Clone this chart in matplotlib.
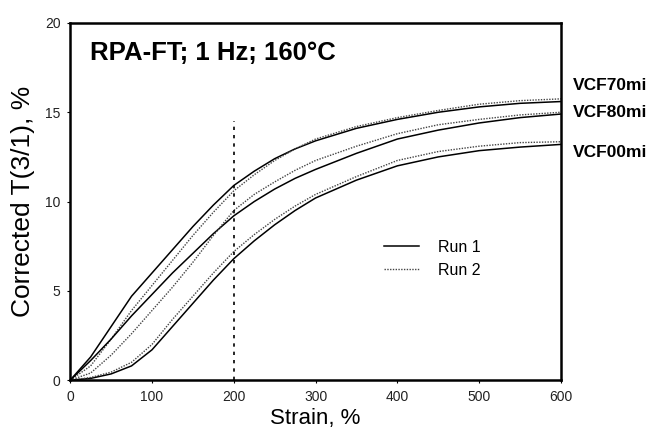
import matplotlib
matplotlib.use('Agg')
import matplotlib.pyplot as plt
import numpy as np

plt.rcParams['font.family'] = ['Liberation Sans', 'DejaVu Sans']

strain = [0, 25, 50, 75, 100, 125, 150, 175, 200, 225, 250, 275, 300, 350, 400, 450, 500, 550, 600]

vcf70_run1 = [0, 1.3, 3.0, 4.7, 6.0, 7.3, 8.6, 9.8, 10.9, 11.7, 12.4, 12.95, 13.4, 14.1, 14.6, 15.0, 15.3, 15.5, 15.6]
vcf70_run2 = [0, 0.8, 2.3, 3.9, 5.3, 6.7, 8.1, 9.4, 10.6, 11.5, 12.3, 12.95, 13.5, 14.2, 14.7, 15.1, 15.45, 15.65, 15.75]
vcf80_run1 = [0, 1.1, 2.3, 3.6, 4.8, 6.0, 7.1, 8.2, 9.2, 10.0, 10.7, 11.3, 11.8, 12.7, 13.5, 14.0, 14.4, 14.7, 14.9]
vcf80_run2 = [0, 0.4, 1.4, 2.6, 3.9, 5.2, 6.6, 8.1, 9.5, 10.4, 11.1, 11.75, 12.3, 13.1, 13.8, 14.3, 14.6, 14.85, 15.0]
vcf00_run1 = [0, 0.1, 0.35, 0.8, 1.7, 3.0, 4.3, 5.6, 6.8, 7.8, 8.7, 9.5, 10.2, 11.2, 12.0, 12.5, 12.85, 13.05, 13.2]
vcf00_run2 = [0, 0.15, 0.45, 1.0, 2.0, 3.4, 4.7, 6.0, 7.2, 8.15, 9.0, 9.75, 10.4, 11.4, 12.3, 12.8, 13.1, 13.3, 13.35]

compounds = ['VCF70mi', 'VCF80mi', 'VCF00mi']
label_y = [16.5, 15.0, 12.75]

fig = plt.figure(figsize=(6.5, 4.33), dpi=100)
ax = fig.add_axes([0.108, 0.122, 0.755, 0.825])

run1_style = dict(color='black', lw=1.1, ls='-')
run2_style = dict(color='#444444', lw=1.0, ls=(0, (1, 1)))

ax.plot(strain, vcf70_run1, label='Run 1', **run1_style)
ax.plot(strain, vcf70_run2, label='Run 2', **run2_style)
ax.plot(strain, vcf80_run1, **run1_style)
ax.plot(strain, vcf80_run2, **run2_style)
ax.plot(strain, vcf00_run1, **run1_style)
ax.plot(strain, vcf00_run2, **run2_style)

# amplitude marker at 200 %
ax.plot([200, 200], [0, 14.5], color='black', lw=1.2, ls=(0, (2, 3)))

ax.set_xlim(0, 600)
ax.set_ylim(0, 20)
ax.set_xticks([0, 100, 200, 300, 400, 500, 600])
ax.set_yticks([0, 5, 10, 15, 20])
ax.tick_params(direction='out', length=2, width=0.8, labelsize=10,
               labelcolor='#222222', pad=5)
for s in ax.spines.values():
    s.set_linewidth(1.8)

ax.set_xlabel('Strain, %', fontsize=16, labelpad=3)
ax.set_ylabel('Corrected T(3/1), %', fontsize=19, labelpad=7)

ax.text(0.04, 0.915, 'RPA-FT; 1 Hz; 160°C', transform=ax.transAxes,
        fontsize=18.5, fontweight='bold', va='center')

for name, yv in zip(compounds, label_y):
    ax.text(614, yv, name, fontsize=12.5, fontweight='bold', va='center', clip_on=False)

ax.legend(loc='center left', bbox_to_anchor=(0.61, 0.34), frameon=False,
          fontsize=11.5, handlelength=2.2, handletextpad=1.2, labelspacing=0.5)

fig.savefig('out.png', dpi=100)
